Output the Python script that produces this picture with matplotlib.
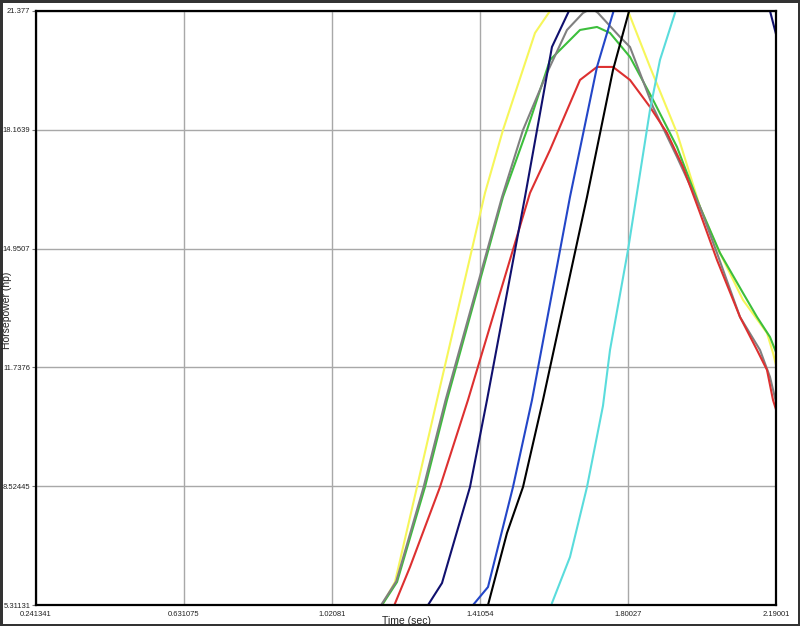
import numpy as np
import matplotlib
matplotlib.use("Agg")
import matplotlib.pyplot as plt

# tick values shown on the chart
x_ticks = [0.241341, 0.631075, 1.02081, 1.41054, 1.80027, 2.19001]
x_tick_labels = ["0.241341", "0.631075", "1.02081", "1.41054", "1.80027", "2.19001"]
y_ticks = [5.31131, 8.52445, 11.7376, 14.9507, 18.1639, 21.377]
y_tick_labels = ["5.31131", "8.52445", "11.7376", "14.9507", "18.1639", "21.377"]

# runs (time in sec, horsepower)
yellow_t = [1.1525, 1.1867, 1.2446, 1.2973, 1.4237, 1.4711, 1.5554, 1.5949, 1.70, 1.8003,
            1.8582, 1.9293, 1.9899, 2.0346, 2.1031, 2.1663, 2.1821, 2.1900]
yellow_hp = [5.31, 5.933, 8.503, 10.856, 16.455, 18.159, 20.782, 21.377, 22.6, 21.377,
             19.863, 18.078, 16.076, 14.994, 13.561, 12.668, 12.127, 11.803]

green_t = [1.1525, 1.1920, 1.2657, 1.3236, 1.4711, 1.5343, 1.5949, 1.6739, 1.7186, 1.7529,
           1.8055, 1.8661, 1.9293, 1.9899, 2.0425, 2.1031, 2.1400, 2.1742, 2.1900]
green_hp = [5.31, 5.933, 8.503, 10.856, 16.347, 18.159, 20.052, 20.863, 20.944, 20.782,
            20.133, 18.975, 17.699, 16.076, 14.832, 13.750, 13.101, 12.560, 12.15]

gray_t = [1.1500, 1.1900, 1.2620, 1.3200, 1.4685, 1.5238, 1.5870, 1.6396, 1.6818, 1.7050,
          1.7213, 1.7792, 1.8055, 1.8661, 1.9293, 1.9899, 2.0346, 2.0952, 2.1479, 2.1742, 2.1900]
gray_hp = [5.31, 5.95, 8.50, 10.86, 16.347, 18.159, 19.700, 20.863, 21.323, 21.45,
           21.323, 20.674, 20.403, 18.781, 17.428, 16.076, 14.832, 13.101, 12.208, 11.478, 10.80]

red_t = [1.1850, 1.2262, 1.3052, 1.3789, 1.5422, 1.5949, 1.6739, 1.7186, 1.7608, 1.8055,
         1.8582, 1.9030, 1.9451, 1.9899, 2.0346, 2.0952, 2.1400, 2.1663, 2.1821, 2.1900]
red_hp = [5.31, 6.339, 8.503, 10.856, 16.455, 17.618, 19.511, 19.863, 19.863, 19.511,
          18.781, 18.078, 17.158, 15.914, 14.643, 13.101, 12.208, 11.667, 10.856, 10.60]

navy_t = [1.2736, 1.3105, 1.3842, 1.4290, 1.5290, 1.6000, 1.6423, 1.90, 2.1742, 2.1900]
navy_hp = [5.31, 5.906, 8.503, 10.856, 16.347, 20.403, 21.323, 27.0, 21.377, 20.75]

blue_t = [1.3921, 1.4316, 1.4974, 1.5475, 1.6475, 1.7186, 1.7608, 1.7800]
blue_hp = [5.31, 5.798, 8.503, 10.856, 16.347, 19.863, 21.323, 22.0]

black_t = [1.4316, 1.4816, 1.5238, 1.5764, 1.6923, 1.7608, 1.8003, 1.8200]
black_hp = [5.31, 7.259, 8.503, 10.856, 16.347, 19.781, 21.269, 22.0]

cyan_t = [1.6001, 1.6475, 1.6923, 1.7344, 1.7529, 1.8003, 1.8582, 1.8845, 1.9240, 1.9400]
cyan_hp = [5.365, 6.610, 8.503, 10.70, 12.208, 14.913, 18.700, 20.052, 21.323, 22.0]

series = [
    (yellow_t, yellow_hp, "#f6f65a"),
    (green_t, green_hp, "#3cbf3c"),
    (gray_t, gray_hp, "#808080"),
    (red_t, red_hp, "#dd3030"),
    (navy_t, navy_hp, "#10106e"),
    (blue_t, blue_hp, "#2346c8"),
    (black_t, black_hp, "#000000"),
    (cyan_t, cyan_hp, "#5adcdc"),
]

plt.rcParams['font.family'] = ['Liberation Sans', 'DejaVu Sans']

fig = plt.figure(figsize=(8.0, 6.26), dpi=100, edgecolor="#333333", linewidth=2.5)
ax = fig.add_axes([0.045, 0.0335, 0.925, 0.949])

for t, hp, c in series:
    ax.plot(t, hp, color=c, linewidth=1.5)

ax.set_xlim(x_ticks[0], x_ticks[-1])
ax.set_ylim(y_ticks[0], y_ticks[-1])
ax.set_xticks(x_ticks)
ax.set_xticklabels(x_tick_labels)
ax.set_yticks(y_ticks)
ax.set_yticklabels(y_tick_labels)
ax.grid(True, color="#a8a8a8", linewidth=1.0)
ax.set_axisbelow(True)

ax.tick_params(axis="x", length=0, pad=4, labelsize=5.5, colors="#222222")
ax.tick_params(axis="y", length=3, width=0.8, pad=1, labelsize=5.5, colors="#222222", color="#777777")
for sp in ax.spines.values():
    sp.set_color("black")
    sp.set_linewidth(1.6)

ax.set_xlabel("Time (sec)", fontsize=7.5, labelpad=-1, color="#222222")
fig.text(0.009, 0.505, "Horsepower (hp)", rotation=90, ha="center", va="center",
         fontsize=7.5, color="#222222")

fig.savefig("out.png", dpi=100)
